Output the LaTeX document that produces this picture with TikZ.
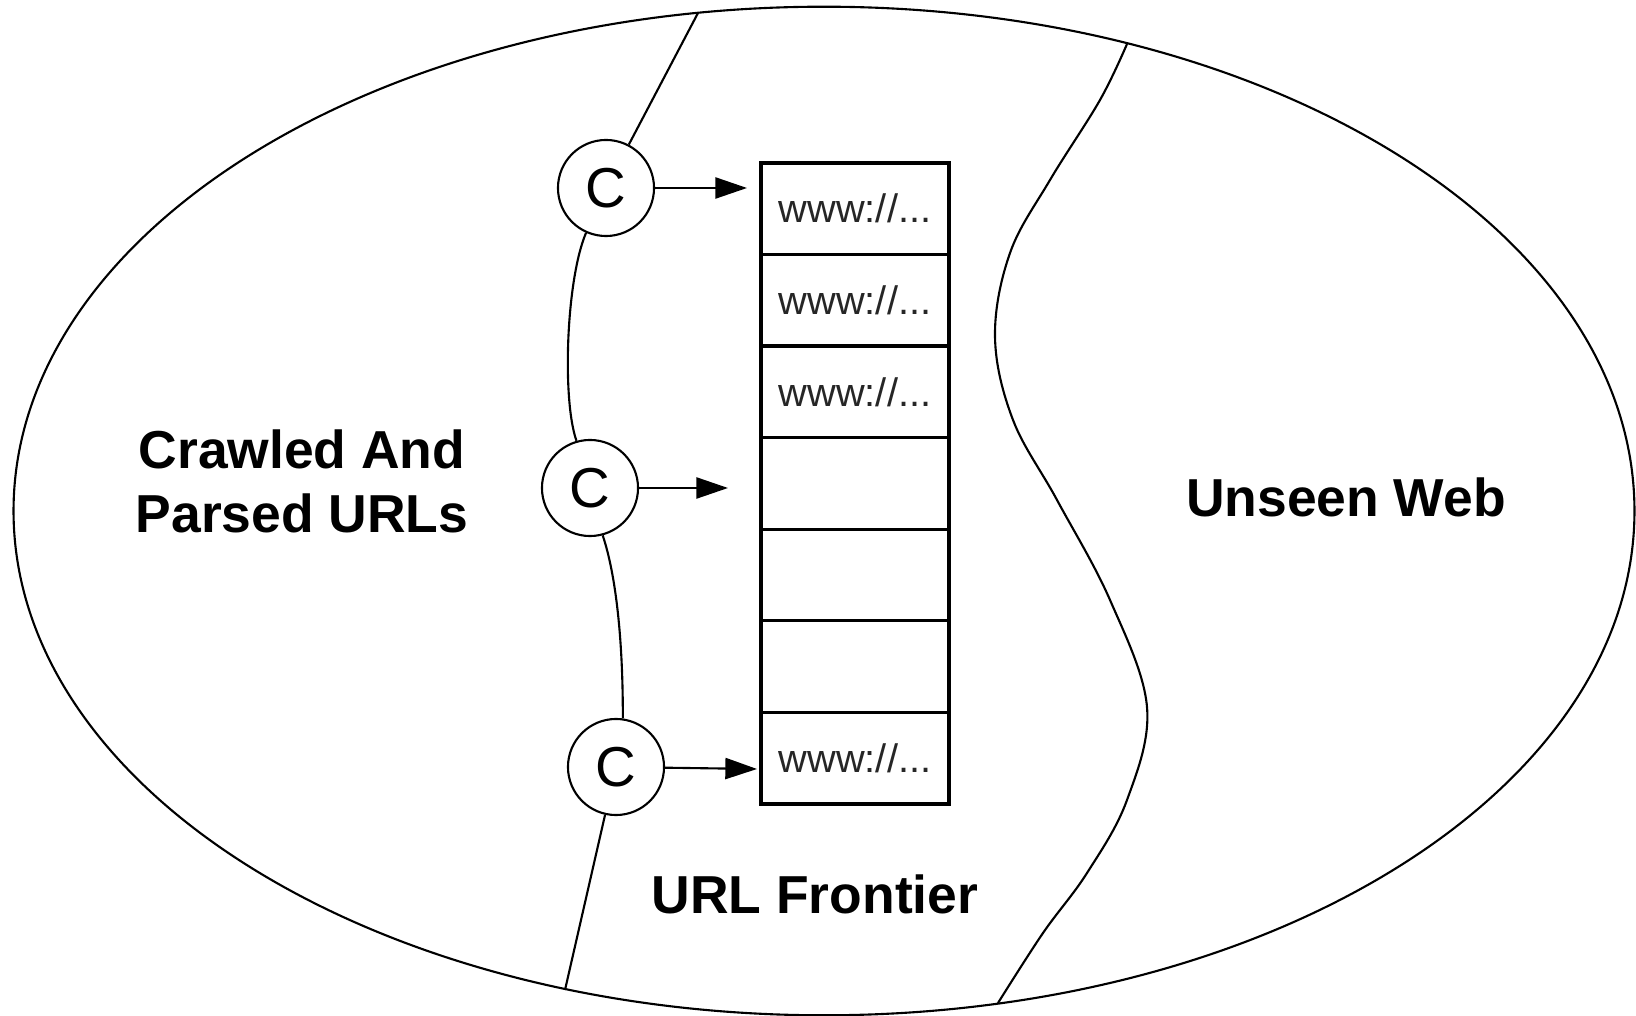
\documentclass[tikz,border=0pt]{standalone}
\usepackage{fontspec}
\setmainfont{Liberation Sans}
\usetikzlibrary{arrows.meta}
\begin{document}
\begin{tikzpicture}[x=0.01cm,y=-0.01cm,
  line/.style={line width=0.6pt},
  crawler/.style={circle,draw,line width=0.6pt,minimum size=0.96cm,inner sep=0pt,
    font=\fontsize{16}{16}\selectfont},
  cell/.style={rectangle,draw,line width=0.9pt,minimum width=1.88cm,minimum height=0.9157cm,
    inner sep=0pt,font=\fontsize{11.3}{12}\selectfont,text=black!85},
  region/.style={font=\fontsize{15.2}{18.2}\selectfont\bfseries,align=center},
  feed/.style={line width=0.6pt,-{Triangle[length=9pt,width=6pt]}}]

\useasboundingbox (0,0) rectangle (1636,1016);

% the whole web
\draw[line] (824,511) ellipse [x radius=8.10cm, y radius=5.04cm];

% URL frontier queue
\node[cell] (r1) at (855,208.8) {www://...};
\node[cell] (r2) at (855,300.4) {www://...};
\node[cell] (r3) at (855,391.9) {www://...};
\node[cell] (r4) at (855,483.5) {};
\node[cell] (r5) at (855,575.1) {};
\node[cell] (r6) at (855,666.6) {};
\node[cell] (r7) at (855,758.2) {www://...};

% crawlers
\node[crawler] (c1) at (606,188) {C};
\node[crawler] (c2) at (590,488) {C};
\node[crawler] (c3) at (616,767) {C};

% arrow ends
\coordinate (t1) at (747,188);
\coordinate (t2) at (728,488);
\coordinate (t3) at (757,769);
\draw[feed] (c1) -- (t1);
\draw[feed] (c2) -- (t2);
\draw[feed] (c3) -- (t3);

% boundary between crawled URLs and the frontier
\coordinate (ltop) at (698,13);
\coordinate (lbot) at (565,990);
\draw[line] (ltop) -- (c1);
\draw[line] (c1.-114) .. controls (566,280) and (562,400) .. (c2.106);
\draw[line] (c2.-75) .. controls (616,575) and (623,640) .. (c3.82);
\draw[line] (c3) -- (lbot);

% boundary between the frontier and the unseen web
\draw[line] plot[smooth,tension=0.6] coordinates {(1127,44) (1100,100) (1050,180) (1010,253)
  (995,337) (1013,420) (1057,500) (1110,600) (1147,707) (1127,800) (1087,873) (1043,933) (998,1003)};

% region labels
\node[region] (crawled) at (302,481) {Crawled And\\Parsed URLs};
\node[region,anchor=base] (unseen) at (1346,517) {Unseen Web};
\node[region,anchor=base] (frontier) at (815,913) {URL Frontier};
\end{tikzpicture}
\end{document}
